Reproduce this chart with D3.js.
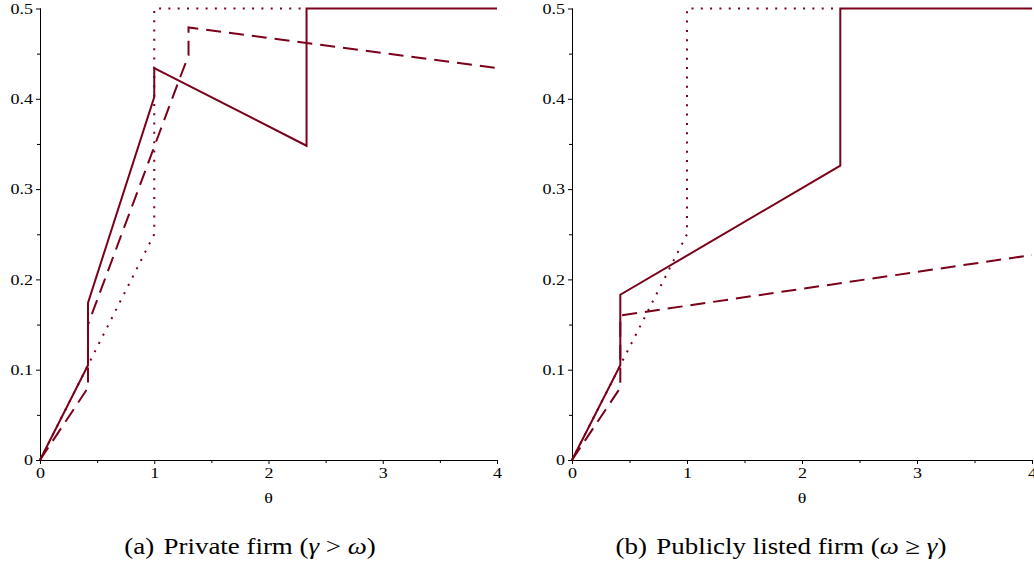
<!DOCTYPE html>
<html><head><meta charset="utf-8">
<script src="https://cdn.jsdelivr.net/npm/d3@7"></script>
<style>
html,body{margin:0;padding:0;background:#fff;}
</style></head>
<body>
<svg id="chart" width="1034" height="567"></svg>
<script>
// ---- data (θ, value) ----
const xTicks = [0, 1, 2, 3, 4];
const yTicks = [0, 0.1, 0.2, 0.3, 0.4, 0.5];
const yTickLabels = ["0", "0.1", "0.2", "0.3", "0.4", "0.5"];

// Panel (a) private firm
const privSolid  = [[0,0],[0.42,0.105],[0.42,0.174],[1.0,0.402],[1.0,0.434],[2.333,0.348],[2.333,0.5],[4,0.5]];
const privDashed = [[0,0],[0.42,0.08],[0.42,0.15],[1.23,0.425],[1.3,0.448],[1.3,0.479],[4,0.434]];
const privDotted = [[0,0],[0.42,0.105],[1.0,0.25],[1.0,0.5],[2.333,0.5]];

// Panel (b) publicly listed firm
const pubSolid  = [[0,0],[0.42,0.105],[0.42,0.183],[2.333,0.326],[2.333,0.5],[4,0.5]];
const pubDashed = [[0,0],[0.42,0.08],[0.42,0.16],[4,0.227]];
const pubDotted = [[0,0],[0.42,0.105],[1.0,0.25],[1.0,0.5],[2.333,0.5]];

const captions = ["(a)", "Private firm (", "γ", " > ", "ω", ")"];
const captionsB = ["(b)", "Publicly listed firm (", "ω", " ≥ ", "γ", ")"];

const COLOR = "#7b0019";
const FONT = '"Liberation Serif", Tinos, "Times New Roman", "DejaVu Serif", "Noto Serif", Times, serif';
const SX = 1.2;   // the reference figure is stretched horizontally
const svg = d3.select("#chart");

function panel(x0, x1, series, caption, capX) {
  const x = d3.scaleLinear().domain([0, 4]).range([x0, x1]);
  const y = d3.scaleLinear().domain([0, 0.5]).range([460, 8.5]);
  const g = svg.append("g");

  const xAxis = d3.axisBottom(x).tickValues(xTicks).tickSize(4).tickPadding(3).tickFormat(d3.format("d"));
  const xMinor = d3.axisBottom(x).tickValues([0.5,1.5,2.5,3.5]).tickSize(3).tickFormat("");
  const yAxis = d3.axisLeft(y).tickValues(yTicks).tickSize(4).tickPadding(3).tickFormat((d,i)=>yTickLabels[i]);
  const yMinor = d3.axisLeft(y).tickValues([0.05,0.15,0.25,0.35,0.45]).tickSize(3).tickFormat("");

  [xAxis, xMinor].forEach(a => {
    const ax = g.append("g").attr("transform", "translate(0,460)").call(a).attr("font-family", FONT);
    ax.select(".domain").attr("d", `M${x0},0.5H${x1}`).attr("stroke","#000");
  });
  [yAxis, yMinor].forEach(a => {
    const ax = g.append("g").attr("transform", `translate(${x0},0)`).call(a).attr("font-family", FONT);
    ax.select(".domain").attr("d", `M0.5,${y(0)}V${y(0.5)}`).attr("stroke","#000");
  });
  g.selectAll(".tick text").attr("font-size", 15).attr("fill", "#000")
    .each(function() {
      const xv = +(this.getAttribute("x") || 0);
      d3.select(this).attr("x", xv / SX).attr("transform", `scale(${SX},1)`);
    });

  g.append("text").attr("transform", `translate(${x(2)},503) scale(${SX},1)`)
    .attr("text-anchor","middle")
    .attr("font-family", FONT).attr("font-size", 15).text("θ");

  const line = d3.line().x(d => x(d[0])).y(d => y(d[1]));
  const styles = {
    dotted: {w: 2, dash: "2,7.3"},
    dashed: {w: 2, dash: "15,8"},
    solid:  {w: 2, dash: null}
  };
  series.forEach(s => {
    g.append("path").datum(s.data).attr("d", line)
      .attr("fill","none").attr("stroke", COLOR)
      .attr("stroke-width", styles[s.type].w)
      .attr("stroke-dasharray", styles[s.type].dash)
      .attr("stroke-linejoin","miter");
  });

  const t = svg.append("text").attr("transform", `translate(${capX},554) scale(1.17,1)`)
    .attr("text-anchor","middle").attr("font-family", FONT).attr("font-size", 23).attr("fill","#000");
  caption.forEach((c, i) => {
    const ts = t.append("tspan").text(c);
    if (i === 1) ts.attr("dx", 8);
    if (i === 2 || i === 4) ts.attr("font-style","italic");
  });
}

panel(40, 497, [
  {type:"dotted", data: privDotted},
  {type:"dashed", data: privDashed},
  {type:"solid",  data: privSolid}
], captions, 250);

panel(572, 1032, [
  {type:"dotted", data: pubDotted},
  {type:"dashed", data: pubDashed},
  {type:"solid",  data: pubSolid}
], captionsB, 781);
</script>
</body></html>
